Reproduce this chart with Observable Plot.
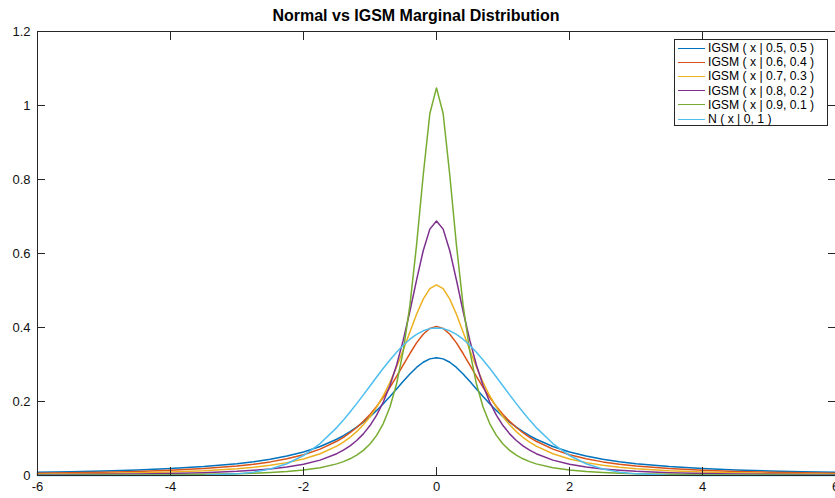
<!DOCTYPE html>
<html>
<head>
<meta charset="utf-8">
<script src="https://cdn.jsdelivr.net/npm/d3@7"></script>
<script src="https://cdn.jsdelivr.net/npm/@observablehq/plot@0.6"></script>
<style>
  html, body { margin: 0; padding: 0; background: #fff; }
  #wrap { position: relative; width: 835px; height: 498px; overflow: hidden; font-family: "Liberation Sans", Arial, Helvetica, sans-serif; }
  #title { position: absolute; left: 0; top: 7px; width: 832px; text-align: center; font-weight: bold; font-size: 16px; line-height: 18px; color: #000; }
  #legend { position: absolute; left: 674px; top: 39px; width: 152px; height: 84px; border: 1px solid #262626; background: #fff; box-sizing: content-box; padding-top: 1px; }
  .row { display: flex; align-items: center; height: 14.2px; font-size: 12.2px; color: #000; white-space: nowrap; }
  .sw { margin-left: 3px; width: 27px; height: 0; border-top-width: 1.5px; border-top-style: solid; }
  .lbl { margin-left: 3px; }
</style>
</head>
<body>
<div id="wrap"><div id="title">Normal vs IGSM Marginal Distribution</div></div>
<script>
const title = "Normal vs IGSM Marginal Distribution";
const xTicks = [-6, -4, -2, 0, 2, 4, 6];
const yTicks = [0, 0.2, 0.4, 0.6, 0.8, 1, 1.2];

const seriesNames = [
  "IGSM ( x | 0.5, 0.5 )",
  "IGSM ( x | 0.6, 0.4 )",
  "IGSM ( x | 0.7, 0.3 )",
  "IGSM ( x | 0.8, 0.2 )",
  "IGSM ( x | 0.9, 0.1 )",
  "N ( x | 0, 1 )"
];
const seriesColors = ["#0072BD", "#D95319", "#EDB120", "#7E2F8E", "#77AC30", "#4DBEEE"];

const xs = [-6,-5.5,-5,-4.5,-4,-3.5,-3,-2.75,-2.5,-2.25,-2,-1.75,-1.5,-1.4,-1.3,-1.2,-1.1,-1,-0.9,-0.8,-0.7,-0.6,-0.5,-0.4,-0.3,-0.2,-0.1,0,0.1,0.2,0.3,0.4,0.5,0.6,0.7,0.8,0.9,1,1.1,1.2,1.3,1.4,1.5,1.75,2,2.25,2.5,2.75,3,3.5,4,4.5,5,5.5,6];

const igsm55 = [0.0086,0.0102,0.0122,0.0150,0.0187,0.0240,0.0318,0.0372,0.0439,0.0525,0.0637,0.0784,0.0979,0.1075,0.1183,0.1305,0.1440,0.1592,0.1759,0.1941,0.2136,0.2341,0.2546,0.2744,0.2920,0.3061,0.3152,
  0.3183,
  0.3152,0.3061,0.2920,0.2744,0.2546,0.2341,0.2136,0.1941,0.1759,0.1592,0.1440,0.1305,0.1183,0.1075,0.0979,0.0784,0.0637,0.0525,0.0439,0.0372,0.0318,0.0240,0.0187,0.0150,0.0122,0.0102,0.0086];

const igsm64 = [0.0060,0.0072,0.0088,0.0110,0.0142,0.0187,0.0256,0.0305,0.0368,0.0451,0.0561,0.0713,0.0925,0.1032,0.1156,0.1298,0.1463,0.1651,0.1867,0.2111,0.2382,0.2678,0.2988,0.3297,0.3584,0.3819,0.3975,
  0.4030,
  0.3975,0.3819,0.3584,0.3297,0.2988,0.2678,0.2382,0.2111,0.1867,0.1651,0.1463,0.1298,0.1156,0.1032,0.0925,0.0713,0.0561,0.0451,0.0368,0.0305,0.0256,0.0187,0.0142,0.0110,0.0088,0.0072,0.0060];

const igsm73 = [0.0037,0.0046,0.0057,0.0073,0.0096,0.0130,0.0185,0.0225,0.0277,0.0348,0.0447,0.0588,0.0794,0.0903,0.1033,0.1186,0.1370,0.1588,0.1848,0.2156,0.2517,0.2931,0.3392,0.3880,0.4357,0.4768,0.5051,
  0.5152,
  0.5051,0.4768,0.4357,0.3880,0.3392,0.2931,0.2517,0.2156,0.1848,0.1588,0.1370,0.1186,0.1033,0.0903,0.0794,0.0588,0.0447,0.0348,0.0277,0.0225,0.0185,0.0130,0.0096,0.0073,0.0057,0.0046,0.0037];

const igsm82 = [0.0020,0.0024,0.0031,0.0041,0.0055,0.0077,0.0113,0.0141,0.0178,0.0230,0.0305,0.0416,0.0589,0.0684,0.0801,0.0946,0.1125,0.1349,0.1631,0.1986,0.2431,0.2985,0.3658,0.4440,0.5282,0.6075,0.6659,
  0.6877,
  0.6659,0.6075,0.5282,0.4440,0.3658,0.2985,0.2431,0.1986,0.1631,0.1349,0.1125,0.0946,0.0801,0.0684,0.0589,0.0416,0.0305,0.0230,0.0178,0.0141,0.0113,0.0077,0.0055,0.0041,0.0031,0.0024,0.0020];

const igsm91 = [0.0007,0.0009,0.0012,0.0016,0.0022,0.0032,0.0049,0.0062,0.0081,0.0108,0.0148,0.0210,0.0314,0.0374,0.0451,0.0551,0.0680,0.0853,0.1085,0.1405,0.1850,0.2478,0.3366,0.4600,0.6226,0.8115,0.9783,
  1.0475,
  0.9783,0.8115,0.6226,0.4600,0.3366,0.2478,0.1850,0.1405,0.1085,0.0853,0.0680,0.0551,0.0451,0.0374,0.0314,0.0210,0.0148,0.0108,0.0081,0.0062,0.0049,0.0032,0.0022,0.0016,0.0012,0.0009,0.0007];

const normal01 = [0,0,0,0,0.0001,0.0009,0.0044,0.0091,0.0175,0.0317,0.0540,0.0863,0.1295,0.1497,0.1714,0.1942,0.2179,0.2420,0.2661,0.2897,0.3123,0.3332,0.3521,0.3683,0.3814,0.3910,0.3970,
  0.3989,
  0.3970,0.3910,0.3814,0.3683,0.3521,0.3332,0.3123,0.2897,0.2661,0.2420,0.2179,0.1942,0.1714,0.1497,0.1295,0.0863,0.0540,0.0317,0.0175,0.0091,0.0044,0.0009,0.0001,0,0,0,0];

const seriesValues = [igsm55, igsm64, igsm73, igsm82, igsm91, normal01];

const axisColor = "#262626";
const fontFamily = "'Liberation Sans', Arial, Helvetica, sans-serif";

const lineMarks = seriesValues.map((vals, s) =>
  Plot.line(xs.map((x, i) => ({x, y: vals[i]})), {
    x: "x", y: "y", stroke: seriesColors[s], strokeWidth: 1.5, strokeLinejoin: "round"
  })
);

const chart = Plot.plot({
  width: 835,
  height: 498,
  marginLeft: 37,
  marginRight: 0,
  marginTop: 31,
  marginBottom: 23,
  style: {fontFamily, fontSize: "13px", background: "transparent", overflow: "hidden"},
  x: {domain: [-6, 6], label: null},
  y: {domain: [0, 1.2], label: null},
  marks: [
    ...lineMarks,
    Plot.frame({stroke: axisColor, strokeWidth: 1}),
    Plot.axisX({anchor: "bottom", ticks: xTicks, tickSize: -8, tickFormat: () => "", stroke: axisColor, label: null}),
    Plot.axisX({anchor: "top", ticks: xTicks, tickSize: -8, tickFormat: () => "", stroke: axisColor, label: null}),
    Plot.axisY({anchor: "left", ticks: yTicks, tickSize: -8, tickFormat: () => "", stroke: axisColor, label: null}),
    Plot.axisY({anchor: "right", ticks: yTicks, tickSize: -8, tickFormat: () => "", stroke: axisColor, label: null}),
    Plot.axisX({anchor: "bottom", ticks: xTicks, tickSize: 0, tickPadding: 6, tickFormat: d => String(d), fill: "#111", fontSize: 13, label: null}),
    Plot.axisY({anchor: "left", ticks: yTicks, tickSize: 0, tickPadding: 7, tickFormat: d => String(d), fill: "#111", fontSize: 13, label: null})
  ]
});

const wrap = document.getElementById("wrap");
wrap.insertBefore(chart, wrap.firstChild);
chart.style.position = "absolute";
chart.style.left = "0";
chart.style.top = "0";

const legend = document.createElement("div");
legend.id = "legend";
seriesNames.forEach((name, s) => {
  const row = document.createElement("div");
  row.className = "row";
  const sw = document.createElement("span");
  sw.className = "sw";
  sw.style.borderTopColor = seriesColors[s];
  const lbl = document.createElement("span");
  lbl.className = "lbl";
  lbl.textContent = name;
  row.appendChild(sw);
  row.appendChild(lbl);
  legend.appendChild(row);
});
wrap.appendChild(legend);
</script>
</body>
</html>
